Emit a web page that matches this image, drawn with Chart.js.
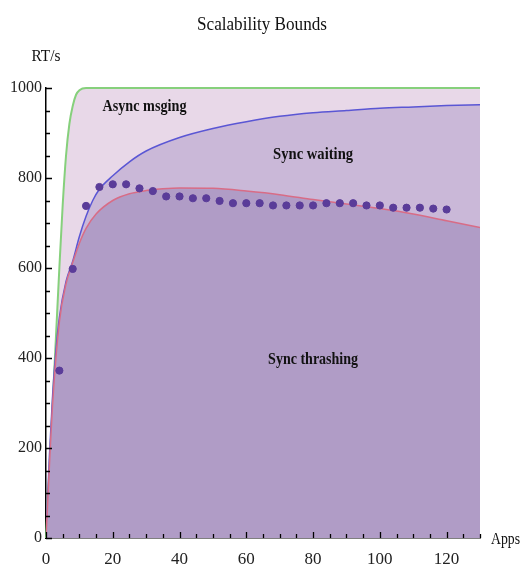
<!DOCTYPE html>
<html>
<head>
<meta charset="utf-8">
<script src="https://cdn.jsdelivr.net/npm/chart.js@4/dist/chart.umd.min.js"></script>
<style>
  html, body { margin: 0; padding: 0; background: #fff; }
  #wrap { width: 521px; height: 571px; }
</style>
</head>
<body>
<div id="wrap"><canvas id="chart" width="521" height="571"></canvas></div>
<script>
// curve samples (apps, RT/s)
const asyncX = [0, 1, 2, 3, 4, 5, 6, 7, 8, 9, 10, 12, 130];
const asyncY = [0, 150, 300, 450, 600, 740, 850, 920, 960, 985, 995, 1000, 1000];

const waitX = [0, 1, 2, 3, 4, 6, 8, 10, 12, 14, 16, 20, 25, 30, 40, 50, 60, 70, 80, 90, 100, 110, 120, 130];
const waitY = [0, 180, 320, 420, 490, 570, 615, 670, 715, 750, 775, 805, 836, 860, 890, 910, 925, 937, 945, 950, 955, 958, 961, 963];

const thrashX = [0, 2, 4, 6, 8, 10, 12, 15, 20, 25, 30, 35, 40, 50, 60, 70, 80, 90, 100, 110, 120, 130];
const thrashY = [0, 300, 480, 565, 612, 655, 688, 720, 750, 765, 772, 776, 778, 777, 771, 763, 752, 742, 732, 720, 705, 690];

// measured points
const measX = [4, 8, 12, 16, 20, 24, 28, 32, 36, 40, 44, 48, 52, 56, 60, 64, 68, 72, 76, 80, 84, 88, 92, 96, 100, 104, 108, 112, 116, 120];
const measY = [372, 598, 738, 780, 786, 786, 777, 771, 759, 759, 755, 755, 749, 744, 744, 744, 739, 739, 739, 739, 744, 744, 744, 739, 739, 734, 734, 734, 732, 730];

const xTicks = [0, 20, 40, 60, 80, 100, 120];
const yTicks = [0, 200, 400, 600, 800, 1000];

const regionLabels = [
    { text: 'Async msging', x: 29.5, y: 958, w: 84 },
    { text: 'Sync waiting', x: 80, y: 853, w: 80 },
    { text: 'Sync thrashing', x: 80, y: 396, w: 90 }
];

const pts = (xs, ys) => xs.map((x, i) => ({ x: x, y: ys[i] }));
const serif = '"Liberation Serif", "DejaVu Serif", serif';

// inward minor/major ticks, titles and region labels
const decor = {
    id: 'decor',
    afterDatasetsDraw(chart) {
        const { ctx, scales: { x, y } } = chart;
        ctx.save();
        ctx.fillStyle = '#111';
        ctx.textAlign = 'center';
        ctx.textBaseline = 'middle';
        ctx.font = 'bold 17px ' + serif;
        regionLabels.forEach(l => {
            ctx.fillText(l.text, x.getPixelForValue(l.x), y.getPixelForValue(l.y), l.w);
        });
        ctx.restore();
    },
    afterDraw(chart) {
        const { ctx, chartArea: a, scales: { x, y } } = chart;
        ctx.save();
        ctx.strokeStyle = '#000';
        ctx.lineWidth = 1.3;
        ctx.beginPath();
        for (let v = 0; v <= 1000; v += 50) {
            const py = Math.round(y.getPixelForValue(v)) + 0.5;
            const len = v % 200 === 0 ? 6 : 4;
            ctx.moveTo(a.left, py);
            ctx.lineTo(a.left + len, py);
        }
        for (let v = 0; v <= 130; v += 5) {
            const px = Math.round(x.getPixelForValue(v)) + 0.5;
            const len = v % 20 === 0 ? 6 : 4;
            ctx.moveTo(px, a.bottom);
            ctx.lineTo(px, a.bottom - len);
        }
        ctx.stroke();

        ctx.fillStyle = '#111';
        ctx.textBaseline = 'middle';
        ctx.textAlign = 'center';
        ctx.font = '19px ' + serif;
        ctx.fillText('Scalability Bounds', 262, 25, 130);
        ctx.font = '17px ' + serif;
        ctx.fillText('RT/s', 46, 57, 29);
        ctx.textAlign = 'left';
        ctx.fillText('Apps', 491, 540, 29);
        ctx.restore();
    }
};

const ctx = document.getElementById('chart').getContext('2d');
const chart = new Chart(ctx, {
    type: 'line',
    data: {
        datasets: [
            {
                label: 'Measured',
                type: 'scatter',
                data: pts(measX, measY),
                backgroundColor: '#5a3c99',
                borderColor: '#5a3c99',
                pointRadius: 3.6,
                order: 0
            },
            {
                label: 'Sync thrashing',
                data: pts(thrashX, thrashY),
                borderColor: '#d86c86',
                backgroundColor: '#b09cc6',
                borderWidth: 1.5,
                fill: 'origin',
                pointRadius: 0,
                cubicInterpolationMode: 'monotone',
                order: 1
            },
            {
                label: 'Sync waiting',
                data: pts(waitX, waitY),
                borderColor: '#5a56d4',
                backgroundColor: '#cab8d8',
                borderWidth: 1.5,
                fill: 'origin',
                pointRadius: 0,
                cubicInterpolationMode: 'monotone',
                order: 2
            },
            {
                label: 'Async msging',
                data: pts(asyncX, asyncY),
                borderColor: '#86d07c',
                backgroundColor: '#e8d8e8',
                borderWidth: 2,
                fill: 'origin',
                pointRadius: 0,
                cubicInterpolationMode: 'monotone',
                clip: 4,
                order: 3
            }
        ]
    },
    options: {
        responsive: false,
        animation: false,
        layout: { padding: { left: 0, right: 41, top: 88, bottom: 0 } },
        plugins: {
            legend: { display: false },
            tooltip: { enabled: false },
            title: { display: false }
        },
        scales: {
            x: {
                type: 'linear',
                min: 0,
                max: 130,
                grid: { display: false, drawTicks: false },
                border: { display: true, color: '#000', width: 1.5 },
                afterBuildTicks: s => { s.ticks = xTicks.map(v => ({ value: v })); },
                afterFit: s => { s.height = 33; },
                ticks: {
                    padding: 11,
                    maxRotation: 0,
                    autoSkip: false,
                    color: '#222',
                    font: { family: serif, size: 17 },
                    callback: v => String(v)
                }
            },
            y: {
                type: 'linear',
                min: 0,
                max: 1000,
                grid: { display: false, drawTicks: false },
                border: { display: true, color: '#000', width: 1.5 },
                afterBuildTicks: s => { s.ticks = yTicks.map(v => ({ value: v })); },
                afterFit: s => { s.width = 46; },
                ticks: {
                    padding: 4,
                    autoSkip: false,
                    color: '#222',
                    font: { family: serif, size: 16 },
                    callback: v => String(v)
                }
            }
        }
    },
    plugins: [decor]
});
</script>
</body>
</html>
